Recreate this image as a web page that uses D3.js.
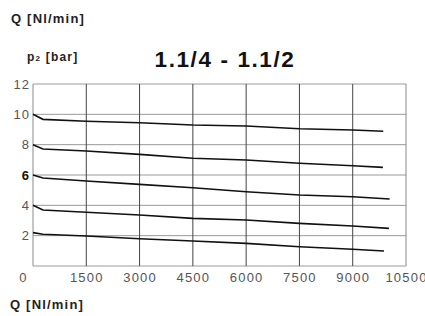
<!DOCTYPE html>
<html>
<head>
<meta charset="utf-8">
<script src="https://cdn.jsdelivr.net/npm/d3@7"></script>
<style>
  body { margin: 0; background: #fff; }
  svg { font-family: "Liberation Sans", Arial, sans-serif; }
</style>
</head>
<body>
<div class="container"></div>
<script>
// tamaño y margenes
const width = 425
const height = 316
const margin = { top: 84, bottom: 50, left: 33, right: 19 }

// datos
const xTicks = [0, 1500, 3000, 4500, 6000, 7500, 9000, 10500]
const yTicks = [0, 2, 4, 6, 8, 10, 12]
const flow = [0, 280, 1500, 3000, 4500, 6000, 7500, 9000]
const endFlow = [9860, 9850, 10040, 10020, 9880]
const p10 = [10.0, 9.67, 9.54, 9.45, 9.3, 9.23, 9.05, 8.97, 8.88]
const p8 = [8.0, 7.71, 7.58, 7.36, 7.1, 6.99, 6.77, 6.61, 6.5]
const p6 = [6.0, 5.8, 5.6, 5.38, 5.16, 4.9, 4.68, 4.57, 4.42]
const p4 = [4.0, 3.69, 3.54, 3.36, 3.14, 3.03, 2.81, 2.64, 2.48]
const p2 = [2.2, 2.09, 1.98, 1.8, 1.65, 1.49, 1.27, 1.1, 0.99]
const series = [p10, p8, p6, p4, p2]

const svg = d3.select(".container").append("svg").attr("width", width).attr("height", height)

const x = d3.scaleLinear().domain([0, 10500]).range([margin.left, width - margin.right])
const y = d3.scaleLinear().domain([0, 12]).range([height - margin.bottom, margin.top])

// rejilla
const grid = svg.append("g")
grid.selectAll("line.h").data(yTicks).join("line")
    .attr("class", "h")
    .attr("x1", x(0)).attr("x2", x(10500))
    .attr("y1", d => y(d)).attr("y2", d => y(d))
    .attr("stroke", "#9a9a9a").attr("stroke-width", 1)
grid.selectAll("line.v").data(xTicks).join("line")
    .attr("class", "v")
    .attr("x1", d => x(d)).attr("x2", d => x(d))
    .attr("y1", y(0)).attr("y2", y(12))
    .attr("stroke", d => (d == 0 || d == 10500) ? "#8a8a8a" : "#444").attr("stroke-width", 1)

// curvas
const line = d3.line().x(d => x(d[0])).y(d => y(d[1]))
svg.append("g").selectAll("path").data(series).join("path")
    .attr("d", (s, i) => line(s.map((v, j) => [j < flow.length ? flow[j] : endFlow[i], v])))
    .attr("fill", "none")
    .attr("stroke", "#111")
    .attr("stroke-width", 1.6)

// ejes
const xAxis = d3.axisBottom(x).tickValues(xTicks).tickFormat(d3.format("d")).tickSize(0).tickPadding(7)
const yAxis = d3.axisLeft(y).tickValues(yTicks.filter(d => d > 0)).tickSize(0).tickPadding(3)

const xg = svg.append("g").attr("transform", `translate(0, ${y(0)})`).call(xAxis)
const yg = svg.append("g").attr("transform", `translate(${x(0)}, 0)`).call(yAxis)
xg.select(".domain").remove()
yg.select(".domain").remove()
xg.selectAll("text").attr("font-size", 13).attr("fill", "#555").attr("font-family", null)
    .attr("letter-spacing", 1.2)
    .attr("dx", d => d == 0 ? -10 : 0)
yg.selectAll("text").attr("font-size", 13).attr("fill", d => d == 6 ? "#111" : "#555")
    .attr("letter-spacing", 1)
    .attr("font-weight", d => d == 6 ? 700 : 400).attr("font-family", null)

// textos
svg.append("text").attr("x", 11).attr("y", 23)
    .attr("font-size", 13).attr("font-weight", 700).attr("fill", "#222")
    .attr("letter-spacing", 1.2)
    .text("Q [Nl/min]")

const p2label = svg.append("text").attr("x", 27).attr("y", 61)
    .attr("font-size", 12).attr("font-weight", 700).attr("fill", "#222")
    .attr("letter-spacing", 1.2)
p2label.append("tspan").text("p")
p2label.append("tspan").attr("font-size", 8).text("2")
p2label.append("tspan").text(" [bar]")

svg.append("text").attr("x", 225).attr("y", 67)
    .style("text-anchor", "middle")
    .attr("font-size", 22.5).attr("font-weight", 700).attr("fill", "#111")
    .attr("letter-spacing", 1.6)
    .text("1.1/4 - 1.1/2")

svg.append("text").attr("x", 10).attr("y", 309)
    .attr("font-size", 13).attr("font-weight", 700).attr("fill", "#222")
    .attr("letter-spacing", 1.2)
    .text("Q [Nl/min]")
</script>
</body>
</html>
